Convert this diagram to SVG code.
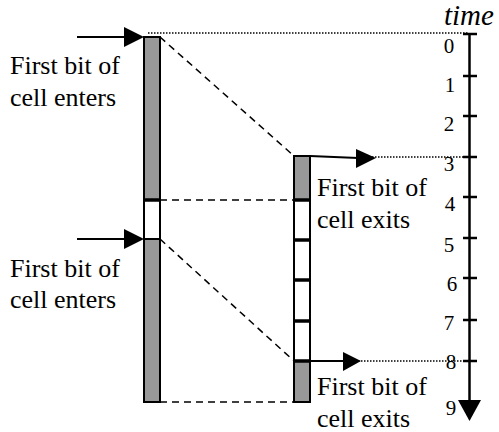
<svg xmlns="http://www.w3.org/2000/svg" width="499" height="432" viewBox="0 0 499 432">
<style>
.lbl{font-size:26px;fill:#000}
.num{font-size:21px;fill:#000;text-anchor:middle}
.ttl{font-size:29px;font-style:italic;fill:#000}
.bar{stroke:#000;stroke-width:2;fill:#fff}
.gray{fill:#999;stroke:#000;stroke-width:2}
.div{stroke:#000;stroke-width:3.5}
.dash{stroke:#000;stroke-width:1.5;stroke-dasharray:7,5;fill:none}
.dot{stroke:#000;stroke-width:1.5;stroke-dasharray:1.5,1.5;fill:none}
.solid{stroke:#000;stroke-width:2;fill:none}
.tick{stroke:#000;stroke-width:2.5}
</style>
<rect width="499" height="432" fill="#fff"/>
<g id="connectors">
<line class="dot" x1="148" y1="33" x2="469" y2="33"/>
<line class="dot" x1="372" y1="157" x2="469" y2="157"/>
<line class="dot" x1="358" y1="361" x2="474" y2="361"/>
<line class="dash" x1="160" y1="37" x2="294" y2="156"/>
<line class="dash" x1="160" y1="200" x2="294" y2="200"/>
<line class="dash" x1="160" y1="239" x2="294" y2="361"/>
<line class="dash" x1="160" y1="402" x2="294" y2="402"/>
<line class="solid" x1="77" y1="37" x2="126" y2="37"/>
<polygon points="124,27 144,37 124,47" fill="#000"/>
<line class="solid" x1="77" y1="239" x2="126" y2="239"/>
<polygon points="124,229 144,239 124,249" fill="#000"/>
<line class="solid" x1="310" y1="156" x2="358" y2="158"/>
<polygon points="356,149 376,158 356,168" fill="#000"/>
<line class="solid" x1="310" y1="361" x2="345" y2="361"/>
<polygon points="343,352 361,361 343,371" fill="#000"/>
</g>
<g id="input-bar">
<rect class="gray" x="144" y="37" width="16" height="163"/>
<rect class="bar" x="144" y="200" width="16" height="39"/>
<rect class="gray" x="144" y="239" width="16" height="163"/>
<line class="div" x1="144" y1="200" x2="160" y2="200"/>
</g>
<g id="output-bar">
<rect class="bar" x="294" y="156" width="16" height="246"/>
<rect class="gray" x="294" y="156" width="16" height="44"/>
<rect class="gray" x="294" y="361" width="16" height="41"/>
<line class="div" x1="294" y1="200" x2="310" y2="200"/>
<line class="div" x1="294" y1="240" x2="310" y2="240"/>
<line class="div" x1="294" y1="280" x2="310" y2="280"/>
<line class="div" x1="294" y1="321" x2="310" y2="321"/>
<line class="div" x1="294" y1="361" x2="310" y2="361"/>
</g>
<g id="time-axis" font-family="Liberation Serif, DejaVu Serif, serif">
<text class="ttl" x="444" y="25">time</text>
<line class="tick" x1="469.5" y1="33" x2="469.5" y2="402"/>
<polygon points="458,400 481,400 469.5,421" fill="#000"/>
<line class="tick" x1="463" y1="34" x2="477" y2="34"/>
<line class="tick" x1="463" y1="76" x2="477" y2="76"/>
<line class="tick" x1="463" y1="116" x2="477" y2="116"/>
<line class="tick" x1="463" y1="157" x2="477" y2="157"/>
<line class="tick" x1="463" y1="197" x2="477" y2="197"/>
<line class="tick" x1="463" y1="238" x2="477" y2="238"/>
<line class="tick" x1="463" y1="278" x2="477" y2="278"/>
<line class="tick" x1="463" y1="320" x2="477" y2="320"/>
<line class="tick" x1="463" y1="361" x2="477" y2="361"/>
<text class="num" x="449" y="53">0</text>
<text class="num" x="450" y="92">1</text>
<text class="num" x="449" y="131">2</text>
<text class="num" x="449" y="171">3</text>
<text class="num" x="450" y="211">4</text>
<text class="num" x="449" y="252">5</text>
<text class="num" x="452" y="291">6</text>
<text class="num" x="449" y="330">7</text>
<text class="num" x="451" y="369">8</text>
<text class="num" x="451" y="415">9</text>
</g>
<g id="label-enter-1" font-family="Liberation Serif, DejaVu Serif, serif">
<text class="lbl" x="10" y="74">First bit of</text>
<text class="lbl" x="10" y="106">cell enters</text>
</g>
<g id="label-enter-2" font-family="Liberation Serif, DejaVu Serif, serif">
<text class="lbl" x="10" y="277">First bit of</text>
<text class="lbl" x="10" y="308">cell enters</text>
</g>
<g id="label-exit-1" font-family="Liberation Serif, DejaVu Serif, serif">
<text class="lbl" x="317" y="196">First bit of</text>
<text class="lbl" x="317" y="228">cell exits</text>
</g>
<g id="label-exit-2" font-family="Liberation Serif, DejaVu Serif, serif">
<text class="lbl" x="317" y="395">First bit of</text>
<text class="lbl" x="317" y="427">cell exits</text>
</g>
</svg>
